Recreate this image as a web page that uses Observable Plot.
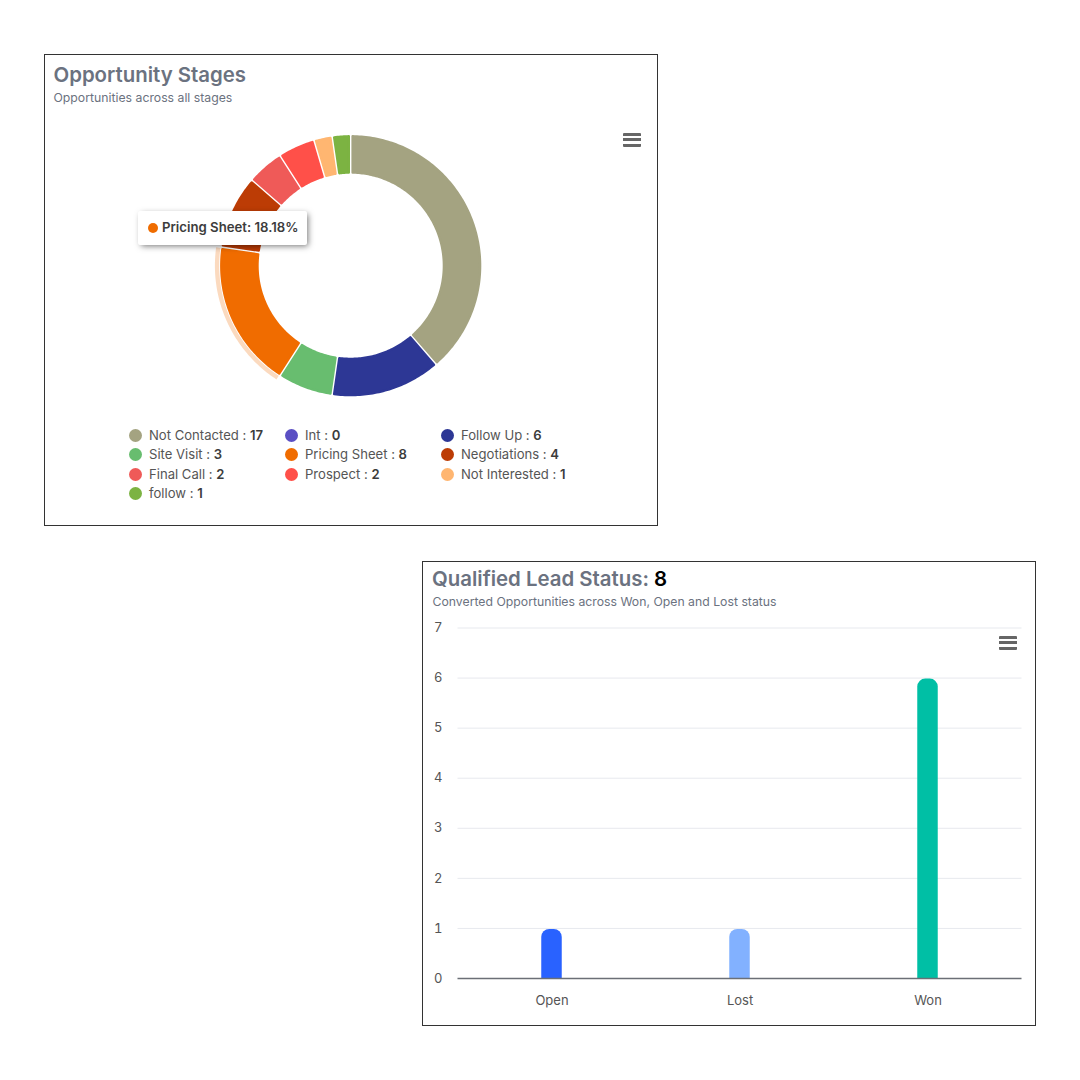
<!DOCTYPE html>
<html><head><meta charset="utf-8">
<script src="https://cdn.jsdelivr.net/npm/d3@7"></script>
<script src="https://cdn.jsdelivr.net/npm/@observablehq/plot@0.6"></script>
<style>
html,body{margin:0;padding:0;background:#fff;width:1080px;height:1080px;overflow:hidden;font-family:Inter,sans-serif}
.card{position:absolute;border:1px solid #333;box-sizing:border-box;background:#fff}
.abs{position:absolute;white-space:nowrap}
.title{font-size:20.4px;font-weight:600;color:#6b7280;line-height:24px}
.title b{color:#000;font-weight:600}
.sub{font-size:12.25px;color:#6b7280;line-height:16px}
.menu{position:absolute;width:18px;height:14px;background:linear-gradient(#666 0 3px,transparent 3px 5.5px,#666 5.5px 8.5px,transparent 8.5px 11px,#666 11px 14px);border-radius:1px}
.leg{position:absolute;font-size:13.1px;line-height:16px;color:#555;white-space:nowrap}
.leg b{font-weight:600;color:#3c3c3c}
.leg i{position:absolute;left:-20px;top:1.5px;width:13px;height:13px;border-radius:50%}
svg{position:absolute;overflow:visible;background:transparent}
.tip{position:absolute;left:138px;top:211px;width:169px;height:34px;background:#fff;border-radius:2px;box-shadow:2px 2px 6px -1px rgba(0,0,0,.55);font-size:13.2px;font-weight:600;color:#3c3c3c;line-height:32px;white-space:nowrap}
.tip i{position:absolute;left:10px;top:11.5px;width:10px;height:10px;border-radius:50%;background:#ef6c00}
.tip span{position:absolute;left:24px}
</style></head><body>
<div id="root"></div>
<script>
const stages = ["Not Contacted","Int","Follow Up","Site Visit","Pricing Sheet","Negotiations","Final Call","Prospect","Not Interested","follow"];
const stageCounts = [17,0,6,3,8,4,2,2,1,1];
const stageColors = ["#a4a381","#5b4fc4","#2d3795","#68bd6f","#f06c00","#bc3c05","#ef5a58","#ff5049","#ffb671","#7cb342"];
const statuses = ["Open","Lost","Won"];
const statusCounts = [1,1,6];
const statusColors = ["#2962ff","#82b1ff","#00bfa5"];
const activeStage = "Pricing Sheet";

const root = document.getElementById("root");
function add(cls, css, html){const d=document.createElement("div");d.className=cls;d.style.cssText=css;if(html!=null)d.innerHTML=html;root.appendChild(d);return d;}

add("card","left:44px;top:54px;width:614px;height:472px");
add("card","left:422px;top:561px;width:614px;height:465px");
add("abs title","left:53.5px;top:63px","Opportunity Stages");
add("abs sub","left:53.5px;top:90px","Opportunities across all stages");
add("abs title","left:432px;top:567px",'Qualified Lead Status: <b>8</b>');
add("abs sub","left:432.5px;top:593.5px","Converted Opportunities across Won, Open and Lost status");

// donut
const total = d3.sum(stageCounts);
const outerR = 130.6, innerR = 92, sw = 2.4, gap = 0.7;
function ring(a0,a1,r0,r1,inset){
  const pts=[];
  const n=Math.max(2,Math.ceil((a1-a0)*180/Math.PI));
  const side=(r,rev)=>{
    const da=inset/r, s=a0+da, e=a1-da;
    for(let i=0;i<=n;i++){const t=(rev?n-i:i)/n;const a=s+(e-s)*t;pts.push([r*Math.sin(a),-r*Math.cos(a)]);}
  };
  side(r1,false);side(r0,true);pts.push(pts[0]);
  return {type:"Polygon",coordinates:[pts]};
}
let acc=0;
const slices=[],halos=[];
stages.forEach((s,i)=>{
  const a0=acc/total*2*Math.PI; acc+=stageCounts[i]; const a1=acc/total*2*Math.PI;
  if(!stageCounts[i])return;
  const e=sw/2+gap;
  slices.push({type:"Feature",properties:{stage:s},geometry:ring(a0,a1,innerR+sw/2,outerR-sw/2,e)});
  if(s===activeStage)halos.push({type:"Feature",properties:{stage:s},geometry:ring(a0,a1,131.5,135.8,1)});
});
const dw=613,dh=300,dLeft=44,dTop=115,cx=350.2-dLeft,cy=265.2-dTop;
const donut=Plot.plot({
  width:dw,height:dh,margin:0,
  style:{background:"transparent",overflow:"visible"},
  projection:()=>d3.geoIdentity().translate([cx,cy]),
  color:{type:"ordinal",domain:stages,range:stageColors},
  marks:[
    Plot.geo(halos,{fill:d=>d.properties.stage,fillOpacity:0.25,stroke:"none"}),
    Plot.geo(slices,{fill:d=>d.properties.stage,stroke:d=>d.properties.stage,strokeWidth:sw,strokeLinejoin:"round"})
  ]
});
donut.style.left=dLeft+"px";donut.style.top=dTop+"px";
root.appendChild(donut);

// legend
const legX=[149,305,461],legY=[427,446,466,485];
stages.forEach((s,i)=>{
  const col=i%3,row=Math.floor(i/3);
  add("leg",`left:${legX[col]}px;top:${legY[row]}px`,`<i style="background:${stageColors[i]}"></i>${s} : <b>${stageCounts[i]}</b>`);
});

// tooltip
const idx=stages.indexOf(activeStage);
add("tip","",`<i></i><span>${activeStage}: ${(stageCounts[idx]/total*100).toFixed(2)}%</span>`);
add("menu","left:623px;top:132.5px");

// bars
const data=statuses.map((s,i)=>({status:s,count:statusCounts[i]}));
const yTicks=[0,1,2,3,4,5,6,7];
const bars=Plot.plot({
  width:613,height:410,
  marginLeft:35.5,marginRight:13.5,marginTop:15.5,marginBottom:44,
  style:{background:"transparent",fontFamily:"Inter, sans-serif",fontSize:"13px",color:"#555",overflow:"visible"},
  x:{domain:statuses,paddingInner:0.891,paddingOuter:0.4455,round:false,label:null},
  y:{domain:[0,7],label:null,ticks:yTicks},
  color:{type:"ordinal",domain:statuses,range:statusColors},
  marks:[
    Plot.ruleY(yTicks.slice(1),{stroke:"#e7e9ee",strokeWidth:1}),
    Plot.barY(data,{x:"status",y:"count",fill:"status",ry1:8,insetTop:1}),
    Plot.ruleY([0],{stroke:"#6b6f76",strokeWidth:1.4}),
    Plot.axisY(yTicks,{tickSize:0,tickPadding:15.5,textAnchor:"end",tickFormat:d=>String(d),label:null}),
    Plot.axisX({tickSize:0,tickPadding:17,label:null})
  ]
});
bars.style.left="422px";bars.style.top="612px";
root.appendChild(bars);
add("menu","left:999px;top:636px");
</script>
</body></html>
